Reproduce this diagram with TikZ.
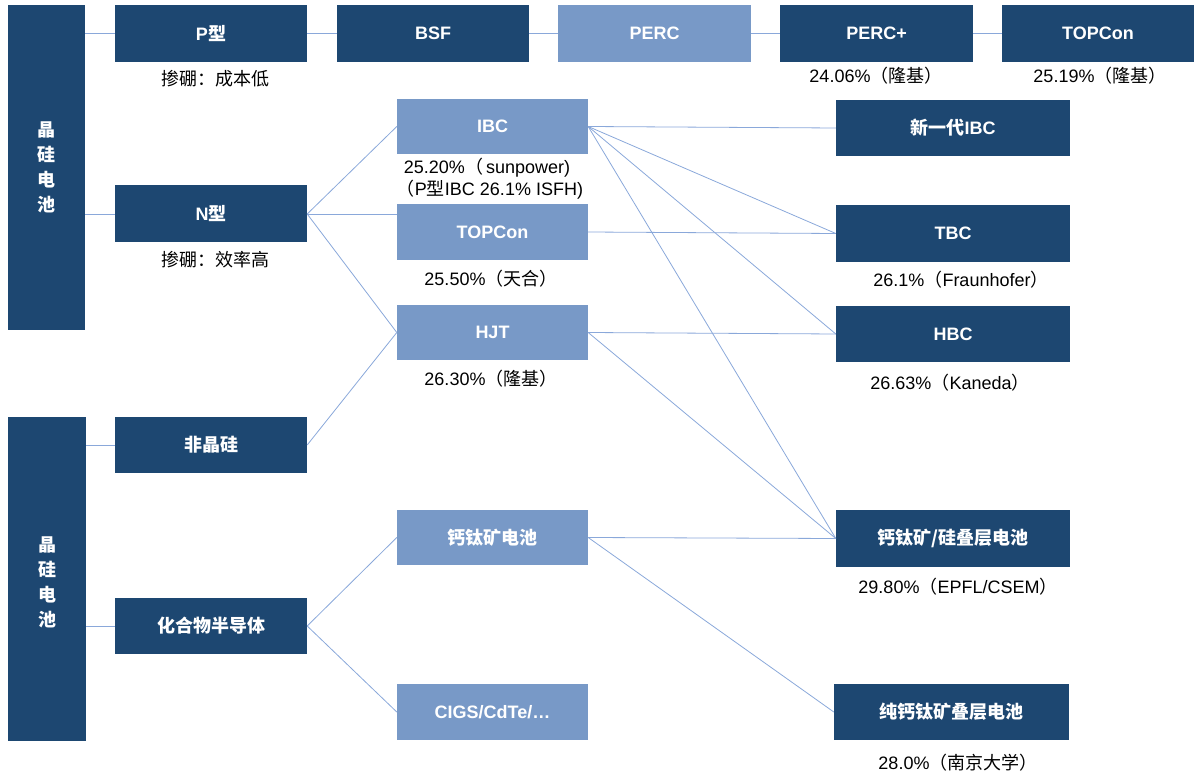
\documentclass[tikz,border=0pt]{standalone}
\usepackage{fontspec}
\setmainfont{Liberation Sans}
\newfontfamily\cjk{Noto Sans CJK SC}
\definecolor{darkb}{HTML}{1D4771}
\definecolor{lightb}{HTML}{7899C7}
\definecolor{linec}{HTML}{8AA8DA}
\begin{document}
\begin{tikzpicture}[x=1pt,y=-1pt,
  base/.style={inner sep=0pt, draw=none, text=white, font=\bfseries\fontsize{18}{20}\selectfont, minimum height=56pt},
  darkbox/.style={base, fill=darkb},
  lightbox/.style={base, fill=lightb},
  lab/.style={inner sep=0pt, text=black, font=\fontsize{18}{20}\selectfont},
  conn/.style={draw=linec, line width=0.8pt}]
\useasboundingbox (0,0) rectangle (1194,775);
% left tall boxes
\node[darkbox, minimum width=77pt, minimum height=325pt] (L1) at (46.5,167.5) {};
\node[text=white, font=\cjk\bfseries\fontsize{18}{25}\selectfont, align=center] (L1t) at (46.5,167.5) {晶\\硅\\电\\池};
\node[darkbox, minimum width=78pt, minimum height=324pt] (L2) at (47,579) {};
\node[text=white, font=\cjk\bfseries\fontsize{18}{25}\selectfont, align=center] (L2t) at (47,582) {晶\\硅\\电\\池};
% top row
\node[darkbox, minimum width=192pt, minimum height=57pt] (P) at (211,33.5) {P{\cjk 型}};
\node[darkbox, minimum width=192pt, minimum height=57pt] (BSF) at (433,33.5) {BSF};
\node[lightbox, minimum width=193pt, minimum height=57pt] (PERC) at (654.5,33.5) {PERC};
\node[darkbox, minimum width=193pt, minimum height=57pt] (PERCp) at (876.5,33.5) {PERC+};
\node[darkbox, minimum width=192pt, minimum height=57pt] (TOPt) at (1098,33.5) {TOPCon};
% left column
\node[darkbox, minimum width=192pt, minimum height=57pt] (N) at (211,214) {N{\cjk 型}};
\node[darkbox, minimum width=192pt] (A) at (211,445) {\cjk 非晶硅};
\node[darkbox, minimum width=192pt] (C) at (211,626) {\cjk 化合物半导体};
% middle column
\node[lightbox, minimum width=191pt, minimum height=55pt] (IBC) at (492.5,126.5) {IBC};
\node[lightbox, minimum width=191pt] (TOPm) at (492.5,232) {TOPCon};
\node[lightbox, minimum width=191pt, minimum height=55pt] (HJT) at (492.5,332.5) {HJT};
\node[lightbox, minimum width=191pt, minimum height=55pt] (PVK) at (492.5,537.5) {\cjk 钙钛矿电池};
\node[lightbox, minimum width=191pt] (CIGS) at (492.5,712) {CIGS/CdTe/…};
% right column
\node[darkbox, minimum width=234pt] (NIBC) at (953,128) {{\cjk 新一代}IBC};
\node[darkbox, minimum width=234pt, minimum height=57pt] (TBC) at (953,233.5) {TBC};
\node[darkbox, minimum width=234pt] (HBC) at (953,334) {HBC};
\node[darkbox, minimum width=234pt, minimum height=57pt] (TAN) at (953,538.5) {\cjk 钙钛矿/硅叠层电池};
\node[darkbox, minimum width=235pt] (PURE) at (951.5,712) {\cjk 纯钙钛矿叠层电池};
% labels
\node[lab] (lP) at (215.5,79) {\cjk 掺硼：成本低};
\node[lab] (lPERCp) at (876,76) {24.06\%{\cjk （隆基）}};
\node[lab] (lTOPt) at (1100,76) {25.19\%{\cjk （隆基）}};
\node[lab] (lIBC1) at (487,168) {25.20\%{\cjk （}\,sunpower)};
\node[lab] (lIBC2) at (490,190) {{\cjk （}P{\cjk 型}IBC 26.1\% ISFH)};
\node[lab] (lN) at (215.5,260) {\cjk 掺硼：效率高};
\node[lab] (lTOPm) at (491,279) {25.50\%{\cjk （天合）}};
\node[lab] (lHJT) at (491,379) {26.30\%{\cjk （隆基）}};
\node[lab] (lTBC) at (961,280) {26.1\%{\cjk （}Fraunhofer{\cjk ）}};
\node[lab] (lHBC) at (950,383) {26.63\%{\cjk （}Kaneda{\cjk ）}};
\node[lab] (lTAN) at (958,587) {29.80\%{\cjk （}EPFL/CSEM{\cjk ）}};
\node[lab] (lPURE) at (958,763) {28.0\%{\cjk （南京大学）}};
% connectors
\draw[conn] (P.west -| L1.east) -- (P.west);
\draw[conn] (P.east) -- (BSF.west);
\draw[conn] (BSF.east) -- (PERC.west);
\draw[conn] (PERC.east) -- (PERCp.west);
\draw[conn] (PERCp.east) -- (TOPt.west);
\draw[conn] (N.west -| L1.east) -- (N.west);
\draw[conn] (A.west -| L2.east) -- (A.west);
\draw[conn] (C.west -| L2.east) -- (C.west);
\draw[conn] (N.east) -- (IBC.west);
\draw[conn] (N.east) -- (N.east -| TOPm.west);
\draw[conn] (N.east) -- (HJT.west);
\draw[conn] (A.east) -- (HJT.west);
\draw[conn] (C.east) -- (PVK.west);
\draw[conn] (C.east) -- (CIGS.west);
\draw[conn] (IBC.east) -- (NIBC.west);
\draw[conn] (IBC.east) -- (TBC.west);
\draw[conn] (IBC.east) -- (HBC.west);
\draw[conn] (IBC.east) -- (TAN.west);
\draw[conn] (TOPm.east) -- (TBC.west);
\draw[conn] (HJT.east) -- (HBC.west);
\draw[conn] (HJT.east) -- (TAN.west);
\draw[conn] (PVK.east) -- (TAN.west);
\draw[conn] (PVK.east) -- (PURE.west);
\end{tikzpicture}
\end{document}
